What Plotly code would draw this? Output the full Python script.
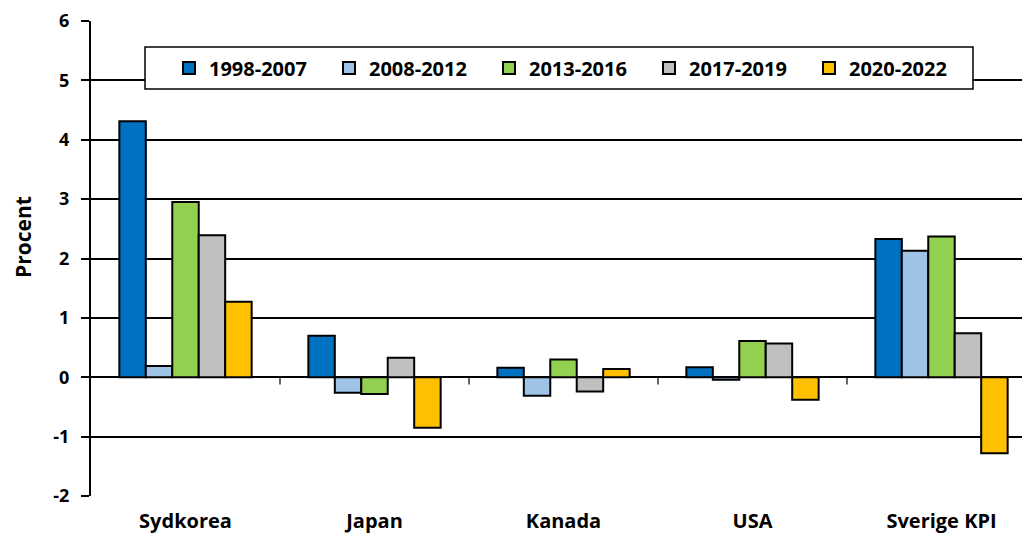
import plotly.graph_objects as go

# Average annual change, per period and country
countries = ["Sydkorea", "Japan", "Kanada", "USA", "Sverige KPI"]
periods = ["1998-2007", "2008-2012", "2013-2016", "2017-2019", "2020-2022"]
v_1998_2007 = [4.31, 0.70, 0.16, 0.17, 2.33]
v_2008_2012 = [0.19, -0.26, -0.31, -0.04, 2.13]
v_2013_2016 = [2.95, -0.28, 0.30, 0.61, 2.37]
v_2017_2019 = [2.39, 0.33, -0.24, 0.57, 0.74]
v_2020_2022 = [1.27, -0.85, 0.14, -0.38, -1.28]
series = [v_1998_2007, v_2008_2012, v_2013_2016, v_2017_2019, v_2020_2022]
colors = ["#0070C0", "#9DC3E6", "#92D050", "#BFBFBF", "#FFC000"]

y_ticks = [-2, -1, 0, 1, 2, 3, 4, 5, 6]
y_ticktext = ["-2", "-1", "0", "1", "2", "3", "4", "5", "6"]

FONT = "Open Sans"
W, H = 1022, 536
ML, MR, MT, MB = 91, 0, 21, 40
plot_w = W - ML - MR
plot_h = H - MT - MB

x_idx = list(range(len(countries)))

fig = go.Figure()
for name, vals, col in zip(periods, series, colors):
    fig.add_trace(go.Bar(
        x=x_idx, y=vals, name=name,
        marker=dict(color=col, line=dict(color="black", width=2)),
    ))

# category separators on the zero axis
shapes = []
for i in range(len(countries) - 1):
    shapes.append(dict(type="line", xref="x", yref="y",
                       x0=i + 0.5, x1=i + 0.5, y0=0, y1=-0.12,
                       line=dict(color="black", width=1.2)))

# legend frame (opaque, hides gridline behind it)
def px_x(p):
    return (p - ML) / plot_w

def px_y(p):
    return (H - MB - p) / plot_h

shapes.append(dict(type="rect", xref="paper", yref="paper",
                   x0=px_x(145), x1=px_x(973), y0=px_y(89), y1=px_y(47),
                   fillcolor="white", line=dict(color="black", width=1.5),
                   layer="above"))

fig.update_layout(
    width=W, height=H,
    margin=dict(l=ML, r=MR, t=MT, b=MB, autoexpand=False),
    paper_bgcolor="white", plot_bgcolor="white",
    barmode="group", bargap=0.30, bargroupgap=0,
    font=dict(family=FONT, color="black"),
    showlegend=True,
    legend=dict(
        orientation="h", x=px_x(169), xanchor="left", y=px_y(68), yanchor="middle",
        bgcolor="rgba(0,0,0,0)", borderwidth=0,
        font=dict(family=FONT, size=20, color="black", weight="bold"),
        entrywidth=115, entrywidthmode="pixels", itemwidth=30,
        traceorder="normal",
    ),
    shapes=shapes,
    annotations=[dict(
        text="<b>Procent</b>", xref="paper", yref="paper",
        x=px_x(23), y=px_y(237), xanchor="center", yanchor="middle",
        textangle=-90, showarrow=False,
        font=dict(family=FONT, size=21, color="black"),
    )],
)

fig.update_xaxes(
    range=[-0.5, -0.5 + plot_w / 189.0],
    tickvals=x_idx, ticktext=countries,
    ticks="", showgrid=False, zeroline=False, showline=False,
    tickfont=dict(family=FONT, size=20, color="black", weight="bold"),
    ticklabelstandoff=11, automargin=False,
    fixedrange=True,
)
fig.update_yaxes(
    range=[-2, 6], tickvals=y_ticks, ticktext=y_ticktext,
    showgrid=True, gridcolor="black", gridwidth=1.5,
    zeroline=True, zerolinecolor="black", zerolinewidth=1.5,
    showline=True, linecolor="black", linewidth=2,
    ticks="outside", ticklen=8, tickwidth=1.5, tickcolor="black",
    tickfont=dict(family=FONT, size=18, color="black", weight="bold"),
    ticklabelstandoff=8, automargin=False,
    fixedrange=True,
)

fig.write_html("out.html")
